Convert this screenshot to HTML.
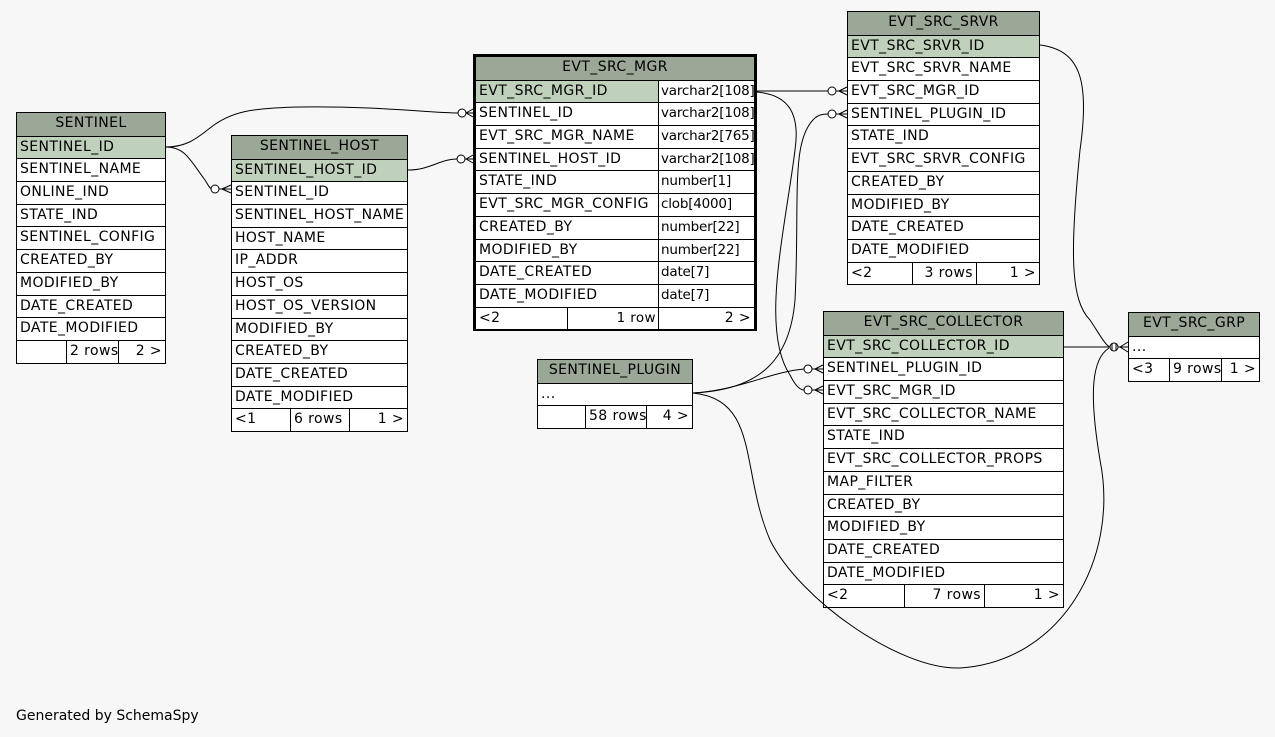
<!DOCTYPE html>
<html><head><meta charset="utf-8"><style>
body{margin:0;width:1275px;height:737px;background:#f7f7f7;position:relative;overflow:hidden;font-family:"DejaVu Sans","Liberation Sans",sans-serif;font-size:14px;letter-spacing:0.4px;color:#000}
.t{position:absolute;border:1px solid #000;background:#fff;box-sizing:border-box}
.r{height:22.7px;border-top:1px solid #000;box-sizing:border-box;padding-left:3px;line-height:20px;white-space:nowrap;display:flex;overflow:hidden}
.r:first-child{border-top:none}
.h{background:#9ba897;justify-content:center;padding-left:0}
.k{background:#bfd1ba}
.c{box-sizing:border-box;height:100%;padding:0 3px;flex-shrink:0;overflow:hidden}
.bl{border-left:1px solid #000}
.rt{text-align:right}
.m .c:first-child{width:182px}
.m .c.bl{letter-spacing:-0.2px;width:96px;font-size:13.5px;padding:0 2px}
svg{position:absolute;left:0;top:0}
</style></head><body>

<div class="t" style="left:16px;top:112px;width:150px">
<div class="r h">SENTINEL</div><div class="r k">SENTINEL_ID</div><div class="r">SENTINEL_NAME</div><div class="r">ONLINE_IND</div><div class="r">STATE_IND</div><div class="r">SENTINEL_CONFIG</div><div class="r">CREATED_BY</div><div class="r">MODIFIED_BY</div><div class="r">DATE_CREATED</div><div class="r">DATE_MODIFIED</div>
<div class="r" style="padding:0"><div class="c" style="width:49px"></div><div class="c bl" style="width:52px">2 rows</div><div class="c bl rt" style="width:47px">2 &gt;</div></div>
</div>

<div class="t" style="left:231px;top:135px;width:177px">
<div class="r h">SENTINEL_HOST</div><div class="r k">SENTINEL_HOST_ID</div><div class="r">SENTINEL_ID</div><div class="r">SENTINEL_HOST_NAME</div><div class="r">HOST_NAME</div><div class="r">IP_ADDR</div><div class="r">HOST_OS</div><div class="r">HOST_OS_VERSION</div><div class="r">MODIFIED_BY</div><div class="r">CREATED_BY</div><div class="r">DATE_CREATED</div><div class="r">DATE_MODIFIED</div>
<div class="r" style="padding:0"><div class="c" style="width:58px">&lt;1</div><div class="c bl" style="width:59px">6 rows</div><div class="c bl rt" style="width:58px">1 &gt;</div></div>
</div>

<div style="position:absolute;left:473px;top:54px;width:284px;height:277px;border:3px solid #000;box-sizing:border-box"></div>
<div class="t m" style="left:475px;top:56px;width:280px">
<div class="r h">EVT_SRC_MGR</div>
<div class="r" style="padding:0"><div class="c k">EVT_SRC_MGR_ID</div><div class="c bl">varchar2[108]</div></div>
<div class="r" style="padding:0"><div class="c">SENTINEL_ID</div><div class="c bl">varchar2[108]</div></div>
<div class="r" style="padding:0"><div class="c">EVT_SRC_MGR_NAME</div><div class="c bl">varchar2[765]</div></div>
<div class="r" style="padding:0"><div class="c">SENTINEL_HOST_ID</div><div class="c bl">varchar2[108]</div></div>
<div class="r" style="padding:0"><div class="c">STATE_IND</div><div class="c bl">number[1]</div></div>
<div class="r" style="padding:0"><div class="c">EVT_SRC_MGR_CONFIG</div><div class="c bl">clob[4000]</div></div>
<div class="r" style="padding:0"><div class="c">CREATED_BY</div><div class="c bl">number[22]</div></div>
<div class="r" style="padding:0"><div class="c">MODIFIED_BY</div><div class="c bl">number[22]</div></div>
<div class="r" style="padding:0"><div class="c">DATE_CREATED</div><div class="c bl">date[7]</div></div>
<div class="r" style="padding:0"><div class="c">DATE_MODIFIED</div><div class="c bl">date[7]</div></div>
<div class="r" style="padding:0"><div class="c" style="width:91px">&lt;2</div><div class="c bl rt" style="width:91px;letter-spacing:0.4px">1 row</div><div class="c bl rt" style="width:96px;font-size:14px;padding:0 3px;letter-spacing:0.4px">2 &gt;</div></div>
</div>

<div class="t" style="left:847px;top:11px;width:193px">
<div class="r h">EVT_SRC_SRVR</div><div class="r k">EVT_SRC_SRVR_ID</div><div class="r">EVT_SRC_SRVR_NAME</div><div class="r">EVT_SRC_MGR_ID</div><div class="r">SENTINEL_PLUGIN_ID</div><div class="r">STATE_IND</div><div class="r">EVT_SRC_SRVR_CONFIG</div><div class="r">CREATED_BY</div><div class="r">MODIFIED_BY</div><div class="r">DATE_CREATED</div><div class="r">DATE_MODIFIED</div>
<div class="r" style="padding:0"><div class="c" style="width:64px">&lt;2</div><div class="c bl rt" style="width:64px">3 rows</div><div class="c bl rt" style="width:63px">1 &gt;</div></div>
</div>

<div class="t" style="left:823px;top:311px;width:241px">
<div class="r h">EVT_SRC_COLLECTOR</div><div class="r k">EVT_SRC_COLLECTOR_ID</div><div class="r">SENTINEL_PLUGIN_ID</div><div class="r">EVT_SRC_MGR_ID</div><div class="r">EVT_SRC_COLLECTOR_NAME</div><div class="r">STATE_IND</div><div class="r">EVT_SRC_COLLECTOR_PROPS</div><div class="r">MAP_FILTER</div><div class="r">CREATED_BY</div><div class="r">MODIFIED_BY</div><div class="r">DATE_CREATED</div><div class="r">DATE_MODIFIED</div>
<div class="r" style="padding:0"><div class="c" style="width:80px">&lt;2</div><div class="c bl rt" style="width:80px">7 rows</div><div class="c bl rt" style="width:79px">1 &gt;</div></div>
</div>

<div class="t" style="left:537px;top:359px;width:156px">
<div class="r h">SENTINEL_PLUGIN</div><div class="r">...</div>
<div class="r" style="padding:0"><div class="c" style="width:47px"></div><div class="c bl" style="width:61px">58 rows</div><div class="c bl rt" style="width:46px">4 &gt;</div></div>
</div>

<div class="t" style="left:1128px;top:312px;width:132px">
<div class="r h">EVT_SRC_GRP</div><div class="r">...</div>
<div class="r" style="padding:0"><div class="c" style="width:40px">&lt;3</div><div class="c bl" style="width:52px">9 rows</div><div class="c bl rt" style="width:38px">1 &gt;</div></div>
</div>

<div style="position:absolute;left:16px;top:708px;letter-spacing:0">Generated by SchemaSpy</div>

<svg width="1275" height="737" fill="none" stroke="#000" stroke-width="1">
<path d="M166,147 C185,147 195,140 210,128 C230,112 250,108 300,107 C380,106 430,113 458,113"/>
<path d="M166,147 C185,147 190,160 205,180 C208,185 210,189 212,189"/>
<path d="M408,170 C430,170 440,159 457,159"/>
<path d="M757,91 L828,91"/>
<path d="M757,92 C790,95 800,115 795,150 C785,230 760,330 790,375 C795,385 800,390 804,390"/>
<path d="M693,393 C760,390 790,360 795,300 C800,200 790,140 815,118 C818,115 822,114 828,114"/>
<path d="M693,393 C740,390 770,372 804,369"/>
<path d="M693,393 C760,400 740,470 770,540 C800,600 900,670 960,668 C1060,662 1120,560 1100,460 C1090,400 1090,360 1109,348"/>
<path d="M1040,45 C1080,50 1090,80 1080,150 C1070,250 1070,300 1090,320 C1100,335 1105,345 1110,347"/>
<path d="M1064,347 L1110,347"/>
<g fill="#fff">
<circle cx="462" cy="113" r="4"/><circle cx="215" cy="189" r="4"/><circle cx="461" cy="159" r="4"/>
<circle cx="832" cy="91" r="4"/><circle cx="832" cy="114" r="4"/><circle cx="808" cy="369" r="4"/><circle cx="808" cy="390" r="4"/>
<circle cx="1114" cy="347" r="4"/>
</g>
<path d="M466,113 L473,113 M466,113 L473,109 M466,113 L473,117"/>
<path d="M219,189 L231,189 M222,189 L231,185 M222,189 L231,193"/>
<path d="M465,159 L473,159 M466,159 L473,155 M466,159 L473,163"/>
<path d="M836,91 L847,91 M839,91 L847,87 M839,91 L847,95"/>
<path d="M836,114 L847,114 M839,114 L847,110 M839,114 L847,118"/>
<path d="M812,369 L823,369 M815,369 L823,365 M815,369 L823,373"/>
<path d="M812,390 L823,390 M815,390 L823,386 M815,390 L823,394"/>
<path d="M1118,347 L1128,347 M1120,347 L1128,342 M1120,347 L1128,352 M1112,343 L1112,351 M1116,343 L1116,351"/>
</svg>
</body></html>
